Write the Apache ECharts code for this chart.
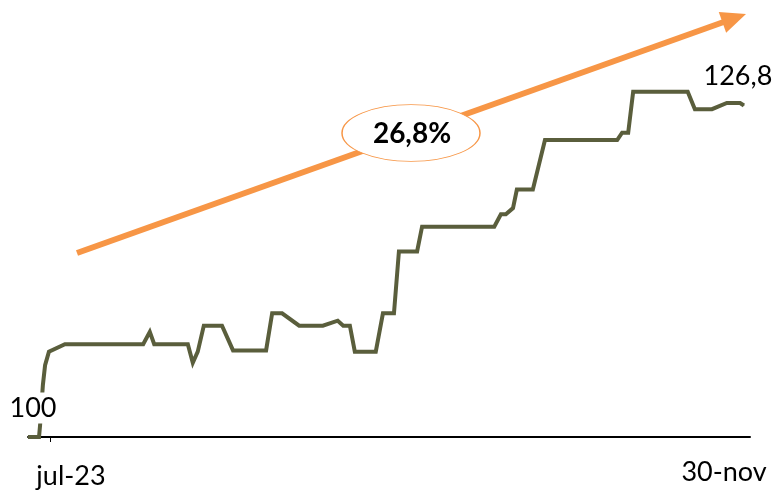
<!DOCTYPE html>
<html>
<head>
<meta charset="utf-8">
<script src="https://cdn.jsdelivr.net/npm/echarts@6/dist/echarts.min.js"></script>
<style>
  html, body { margin: 0; padding: 0; background: #ffffff; }
  #chart { width: 774px; height: 490px; }
</style>
</head>
<body>
<div id="chart"></div>
<script>
// Index rebased to 100, days counted from the start of the period
const day = [0, 2, 2.2, 2.7, 3.1, 3.8, 6.7, 20.9, 22.1, 22.9, 29.0, 29.9, 30.8, 31.9,
  35.2, 37.2, 43.2, 44.3, 46.1, 49.2, 53.5, 56.2, 57.2, 58.4, 59.3, 63.1, 64.4, 66.4,
  67.3, 70.6, 71.5, 84.6, 85.8, 86.7, 88.0, 88.7, 91.6, 93.8, 106.9, 107.8, 108.9,
  109.8, 119.7, 121.0, 124.1, 126.8, 129.2, 129.9];
const indexValue = [100, 100, 101.0, 104.2, 105.8, 106.9, 107.5, 107.5, 108.5, 107.5,
  107.5, 106.0, 106.9, 109.0, 109.0, 107.0, 107.0, 110.0, 110.0, 109.0, 109.0, 109.4,
  109.0, 109.0, 106.9, 106.9, 110.0, 110.0, 115.0, 115.0, 117.0, 117.0, 118.0, 118.0,
  118.5, 120.0, 120.0, 124.0, 124.0, 124.6, 124.6, 127.9, 127.9, 126.5, 126.5, 127.0,
  127.0, 126.8];
const xTickLabels = ['jul-23', '30-nov'];

const FONT = 'Lato, "Open Sans", sans-serif';
const OLIVE = '#5A5E3C';
const ORANGE = '#F79646';

const fmt = v => String(Math.round(v * 10) / 10).replace('.', ',');

const last = indexValue.length - 1;
const points = day.map((d, i) => [d, indexValue[i]]);

const change = (indexValue[last] / indexValue[0] - 1) * 100;

// Trend arrow geometry
const arrowStart = [77, 253], arrowTip = [746, 14];
const headLen = 25, headHalf = 11;
const adx = arrowTip[0] - arrowStart[0], ady = arrowTip[1] - arrowStart[1];
const alen = Math.hypot(adx, ady);
const ux = adx / alen, uy = ady / alen;
const base = [arrowTip[0] - headLen * ux, arrowTip[1] - headLen * uy];

const valueLabel = {
  show: true, position: 'top',
  fontFamily: FONT, fontSize: 27, color: '#000', opacity: 1,
  formatter: p => fmt(p.value[1])
};

const chart = echarts.init(document.getElementById('chart'));
chart.setOption({
  backgroundColor: '#ffffff',
  animation: false,
  grid: { left: 28, right: 24, top: 4, bottom: 52 },
  xAxis: {
    type: 'value', min: 0, max: 131,
    splitLine: { show: false },
    axisLine: { show: true, onZero: false, lineStyle: { color: '#000', width: 2 } },
    axisTick: { show: true, customValues: [4], length: 5, lineStyle: { color: '#000', width: 1 } },
    axisLabel: {
      show: true, customValues: [7.8, 126.3], margin: 22,
      formatter: v => v < 60 ? '{a|' + xTickLabels[0] + '}' : '{b|' + xTickLabels[1] + '}',
      rich: {
        a: { fontFamily: FONT, fontSize: 27, color: '#000', padding: [4, 0, 0, 0] },
        b: { fontFamily: FONT, fontSize: 27, color: '#000' }
      }
    }
  },
  yAxis: {
    type: 'value', min: 100, max: 135,
    show: false, splitLine: { show: false }
  },
  series: [
    {
      type: 'line',
      data: points,
      showSymbol: false,
      symbol: 'none',
      lineStyle: { color: OLIVE, width: 4, join: 'miter' },
      emphasis: { disabled: true },
      z: 3
    },
    {
      // first and last values, labelled
      type: 'scatter',
      data: [
        { value: points[0], label: Object.assign({}, valueLabel, {
            offset: [5, -8], backgroundColor: '#ffffff', padding: [2, 2] }) },
        { value: points[last], label: Object.assign({}, valueLabel, { offset: [-6, -10] }) }
      ],
      symbol: 'circle',
      symbolSize: 1,
      itemStyle: { color: OLIVE, opacity: 1 },
      emphasis: { disabled: true },
      z: 4
    }
  ],
  graphic: [
    {
      type: 'line', z: 10,
      shape: { x1: arrowStart[0], y1: arrowStart[1], x2: base[0] + ux * 2, y2: base[1] + uy * 2 },
      style: { stroke: ORANGE, lineWidth: 6 }
    },
    {
      type: 'polygon', z: 10,
      shape: { points: [
        arrowTip,
        [base[0] - headHalf * uy, base[1] + headHalf * ux],
        [base[0] + headHalf * uy, base[1] - headHalf * ux]
      ] },
      style: { fill: ORANGE }
    },
    {
      type: 'circle', z: 11, x: 411, y: 133, scaleY: 28 / 68,
      shape: { cx: 0, cy: 0, r: 69 },
      style: { fill: '#ffffff', stroke: ORANGE, lineWidth: 1.5, strokeNoScale: true }
    },
    {
      type: 'text', z: 12, x: 412, y: 134,
      style: {
        text: fmt(change) + '%',
        font: 'bold 28px ' + FONT,
        fill: '#000', align: 'center', verticalAlign: 'middle'
      }
    }
  ]
});
</script>
</body>
</html>
